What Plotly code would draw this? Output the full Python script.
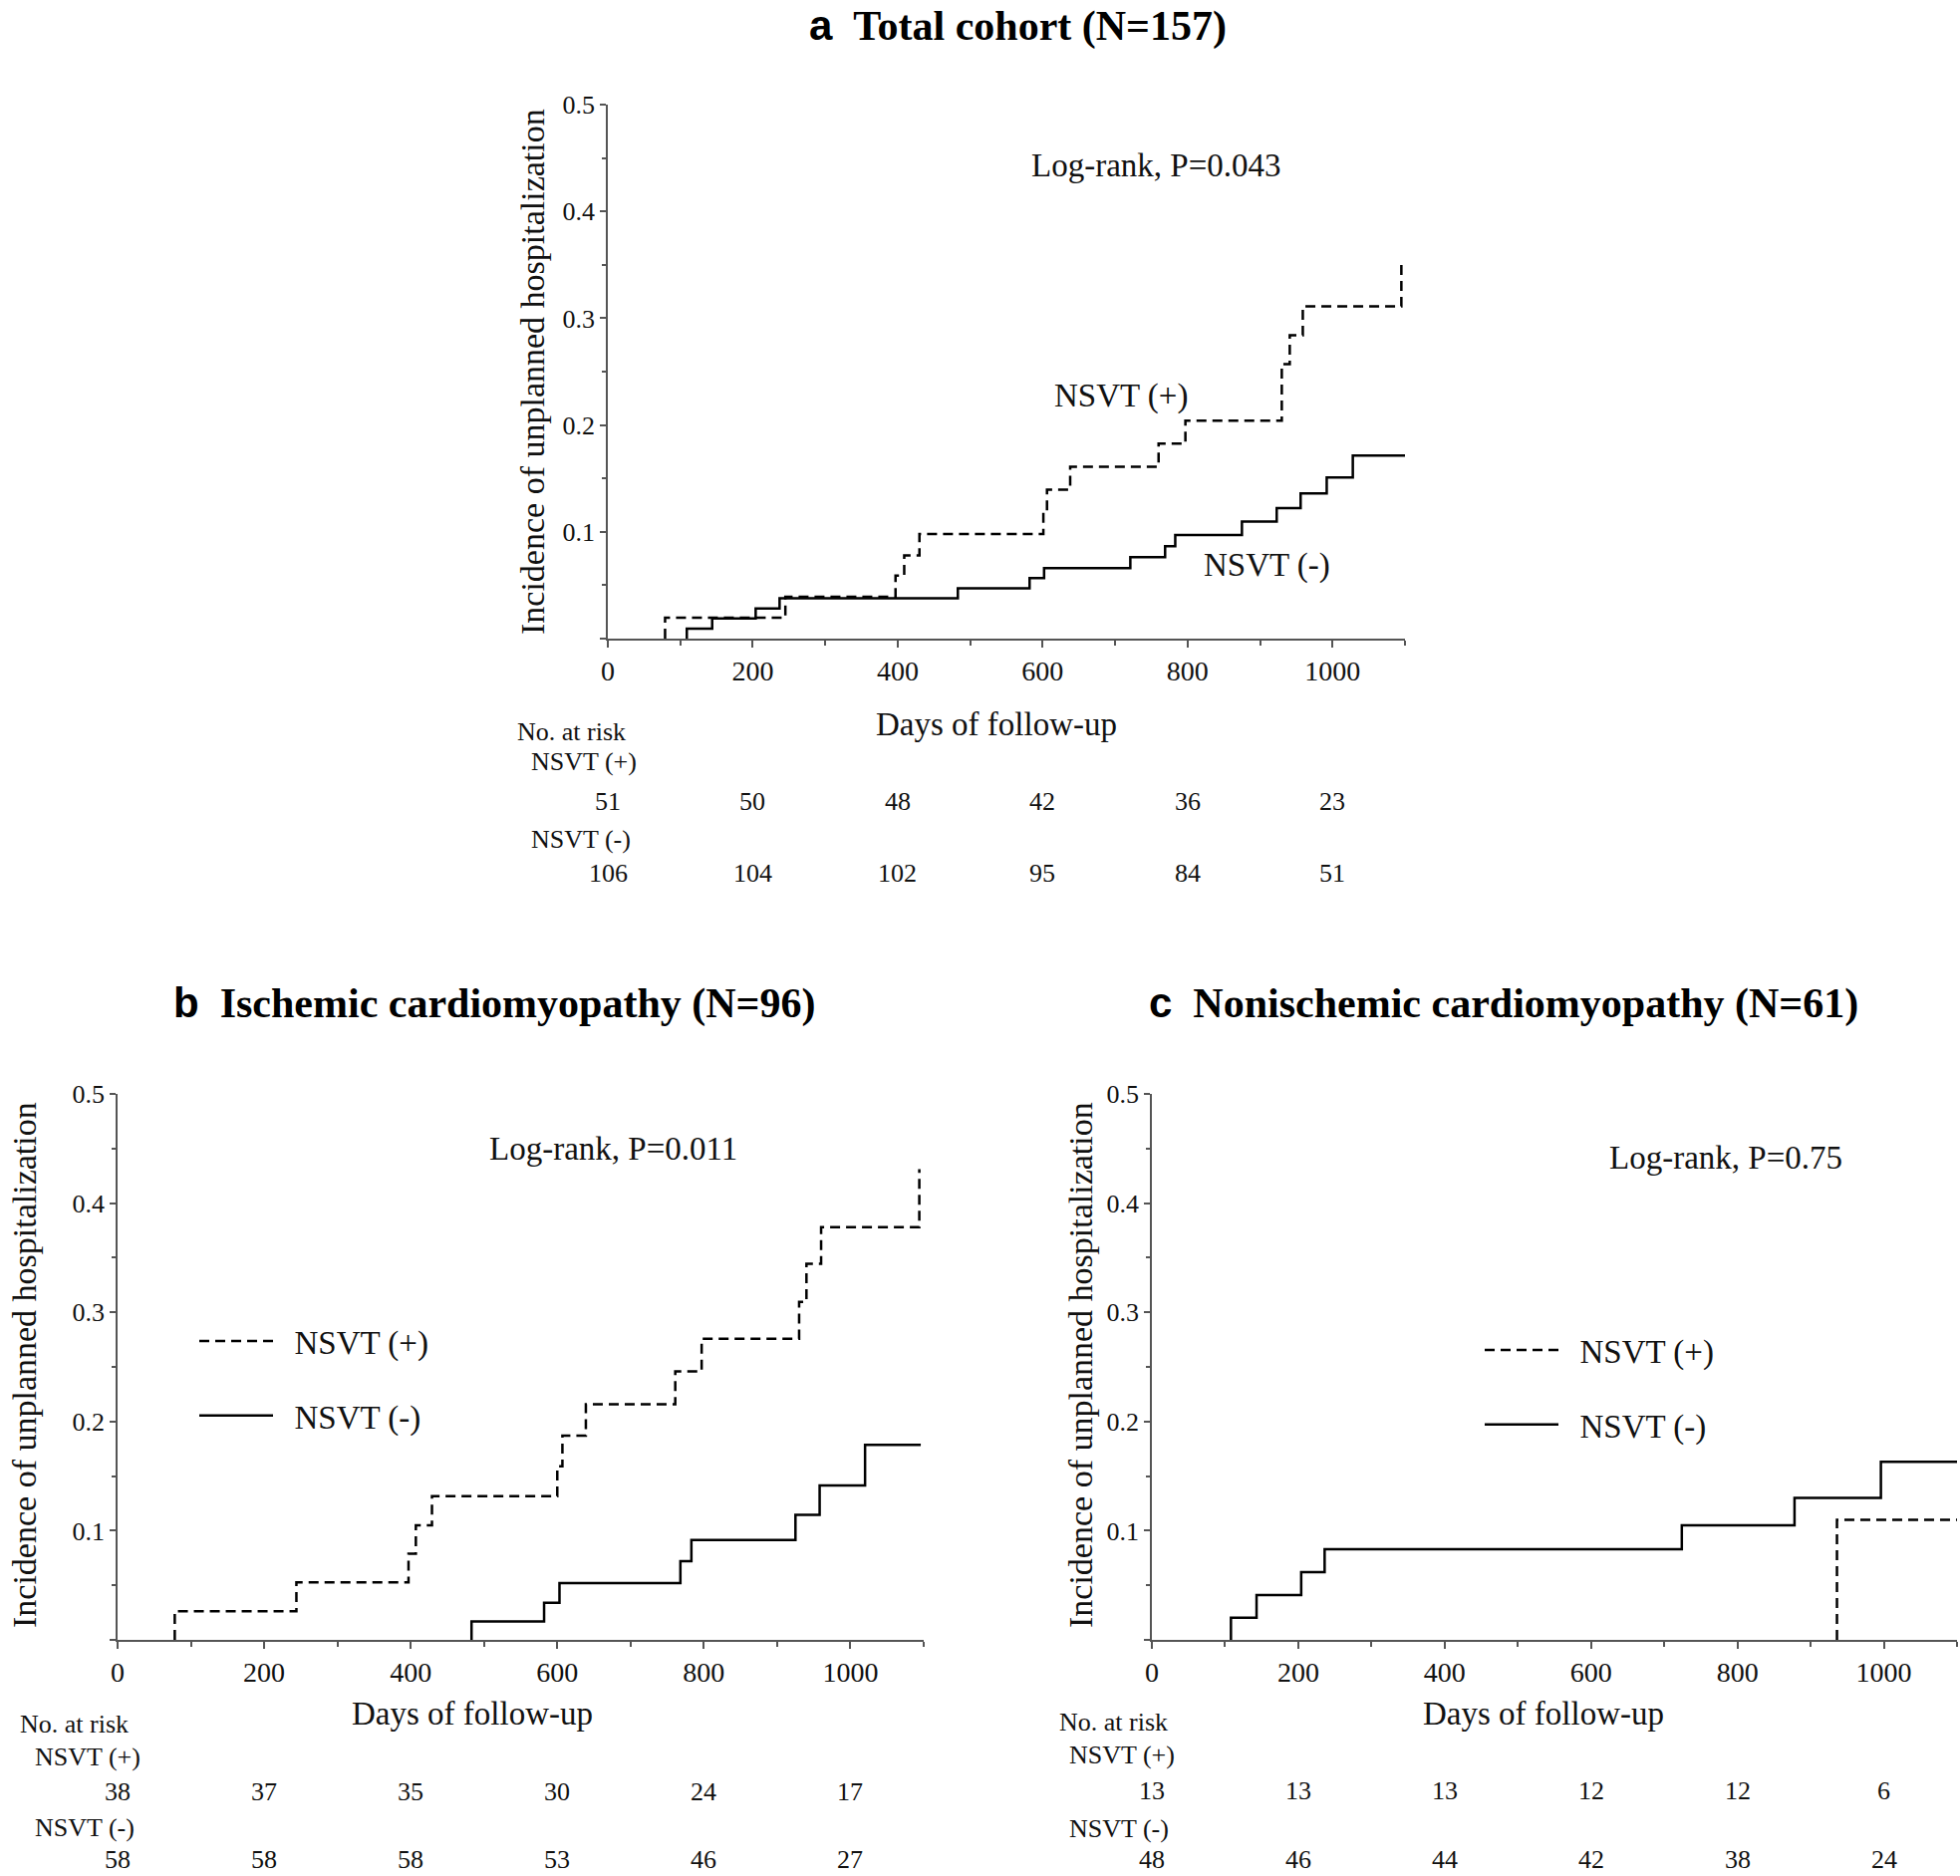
import plotly.graph_objects as go

# ── values ──────────────────────────────────────────────────────────────────
DAY_TICKS = [0, 200, 400, 600, 800, 1000]
Y_TICKS = [0, 0.1, 0.2, 0.3, 0.4, 0.5]
Y_TICK_TEXT = ["", "0.1", "0.2", "0.3", "0.4", "0.5"]

# a: total cohort
a_plus_days = [79, 245, 397, 409, 430, 601, 606, 638, 760, 797, 930, 941, 959, 1095]
a_plus_inc = [0.0196, 0.0392, 0.059, 0.078, 0.098, 0.118, 0.1395, 0.161, 0.1825,
              0.204, 0.257, 0.284, 0.311, 0.3546]
a_minus_days = [109, 144, 204, 237, 483, 582, 602, 721, 769, 783, 875, 923, 956, 992, 1028]
a_minus_inc = [0.0094, 0.0189, 0.0283, 0.0377, 0.047, 0.0566, 0.066, 0.0763, 0.0866,
               0.097, 0.1096, 0.1223, 0.136, 0.151, 0.1715]
a_risk_plus = [51, 50, 48, 42, 36, 23]
a_risk_minus = [106, 104, 102, 95, 84, 51]

# b: ischemic cardiomyopathy
b_plus_days = [78, 244, 397, 407, 429, 600, 607, 639, 761, 797, 930, 940, 960, 1094]
b_plus_inc = [0.0263, 0.0526, 0.0789, 0.105, 0.1316, 0.159, 0.187, 0.2157, 0.246,
              0.2757, 0.3096, 0.3445, 0.378, 0.431]
b_minus_days = [483, 582, 603, 768, 783, 925, 958, 1020]
b_minus_inc = [0.0168, 0.034, 0.052, 0.072, 0.0914, 0.1145, 0.1414, 0.1787]
b_risk_plus = [38, 37, 35, 30, 24, 17]
b_risk_minus = [58, 58, 58, 53, 46, 27]

# c: nonischemic cardiomyopathy
c_plus_days = [936]
c_plus_inc = [0.110]
c_minus_days = [108, 143, 204, 236, 724, 878, 996]
c_minus_inc = [0.0202, 0.041, 0.062, 0.083, 0.105, 0.130, 0.163]
c_risk_plus = [13, 13, 13, 12, 12, 6]
c_risk_minus = [48, 46, 44, 42, 38, 24]

# ── page geometry (page pixels of the 1967 x 1883 canvas) ───────────────────
FIG_W, FIG_H = 1967, 1883
SERIF = "Liberation Serif, Times New Roman, serif"
SANS = "Liberation Sans, Arial, sans-serif"
AXIS = "#555555"
INK = "#111111"
KEY_GAP = "\u00a0\u00a0"   # space between legend key line and its label


def px(x):
    return min(max(x / FIG_W, 0), 1)


def py(y):
    return min(max(1 - y / FIG_H, 0), 1)


def step_xy(days, inc, end=None):
    # vertical rise at each event day, flat in between
    xs = [days[0]] + list(days)
    ys = [0.0] + list(inc)
    if end is not None:
        xs.append(end)
        ys.append(inc[-1])
    return xs, ys


PANELS = [
    dict(sfx="", box=(610, 105, 1410, 641), letter="a", title="Total cohort (N=157)",
         title_x=1021, ytitle_xy=(535, 373), xtitle_xy=(1000, 727),
         no_risk_x=517, grp_x=531, rows=(734, 764, 804, 842, 876),
         p_text="Log-rank, P=0.043", p_xy=(1160, 166),
         plus=step_xy(a_plus_days, a_plus_inc), minus=step_xy(a_minus_days, a_minus_inc, 1100),
         risk=(a_risk_plus, a_risk_minus)),
    dict(sfx="2", box=(118, 1098, 927, 1646), letter="b", title="Ischemic cardiomyopathy (N=96)",
         title_x=496, ytitle_xy=(24, 1370), xtitle_xy=(474, 1720),
         no_risk_x=18, grp_x=33, rows=(1730, 1763, 1798, 1834, None),
         p_text="Log-rank, P=0.011", p_xy=(615, 1153),
         plus=step_xy(b_plus_days, b_plus_inc), minus=step_xy(b_minus_days, b_minus_inc, 1096),
         risk=(b_risk_plus, b_risk_minus)),
    dict(sfx="3", box=(1156, 1098, 1964, 1646), letter="c", title="Nonischemic cardiomyopathy (N=61)",
         title_x=1509, ytitle_xy=(1084, 1370), xtitle_xy=(1549, 1720),
         no_risk_x=1061, grp_x=1071, rows=(1728, 1761, 1797, 1835, None),
         p_text="Log-rank, P=0.75", p_xy=(1732, 1162),
         plus=step_xy(c_plus_days, c_plus_inc, 1100), minus=step_xy(c_minus_days, c_minus_inc, 1100),
         risk=(c_risk_plus, c_risk_minus)),
]

fig = go.Figure()
layout = dict(
    width=FIG_W, height=FIG_H,
    margin=dict(l=0, r=0, t=0, b=0),
    paper_bgcolor="white", plot_bgcolor="white",
    font=dict(family=SERIF, color=INK),
    showlegend=True,
)
annotations = []

for p in PANELS:
    sfx = p["sfx"]
    xa, ya = "x" + sfx, "y" + sfx
    x0, y0, x1, y1 = p["box"]

    for xs_ys, dash, name in ((p["plus"], "10px,6px", "NSVT (+)"), (p["minus"], "solid", "NSVT (-)")):
        xs, ys = xs_ys
        tr = go.Scatter(
            x=xs, y=ys, mode="lines", line_shape="hv",
            line=dict(color="black", width=2.5, dash=dash),
            name=KEY_GAP + name, xaxis=xa, yaxis=ya, hoverinfo="skip",
            showlegend=bool(sfx), legendgroup=name + sfx,
        )
        if sfx:
            tr.legend = "legend" + sfx
        fig.add_trace(tr)

    layout["xaxis" + sfx] = dict(
        domain=[px(x0), px(x1)], anchor=ya, range=[0, 1100], automargin=False,
        showline=True, linecolor=AXIS, linewidth=1.5, showgrid=False, zeroline=False,
        tickmode="array", tickvals=DAY_TICKS, ticks="outside", ticklen=7,
        tickwidth=1.5, tickcolor=AXIS,
        tickfont=dict(family=SERIF, size=28, color=INK),
        minor=dict(tick0=0, dtick=100, ticks="outside", ticklen=5, tickwidth=1.5, tickcolor=AXIS),
    )
    layout["yaxis" + sfx] = dict(
        domain=[py(y1), py(y0)], anchor=xa, range=[0, 0.5], automargin=False,
        showline=True, linecolor=AXIS, linewidth=1.5, showgrid=False, zeroline=False,
        tickmode="array", tickvals=Y_TICKS, ticktext=Y_TICK_TEXT, ticks="outside",
        ticklen=6, tickwidth=1.5, tickcolor=AXIS,
        tickfont=dict(family=SERIF, size=26, color=INK),
        minor=dict(tick0=0, dtick=0.05, ticks="outside", ticklen=4, tickwidth=1.5, tickcolor=AXIS),
    )

    # panel title (panel a sits at the very top of the page)
    title_y = dict(y=1, yanchor="top") if not sfx else dict(y=py(1007), yanchor="middle")
    annotations.append(dict(
        x=px(p["title_x"]), xref="paper", yref="paper", showarrow=False,
        text=f"<b><span style='font-family:{SANS}'>{p['letter']}</span>\u00a0\u00a0{p['title']}</b>",
        font=dict(family=SERIF, size=42, color="black"), xanchor="center", **title_y,
    ))
    yx, yy = p["ytitle_xy"]
    annotations.append(dict(
        x=px(yx), y=py(yy), xref="paper", yref="paper", showarrow=False, textangle=-90,
        text="Incidence of unplanned hospitalization",
        font=dict(family=SERIF, size=34, color=INK), xanchor="center", yanchor="middle",
    ))
    xx, xy = p["xtitle_xy"]
    annotations.append(dict(
        x=px(xx), y=py(xy), xref="paper", yref="paper", showarrow=False,
        text="Days of follow-up",
        font=dict(family=SERIF, size=33, color=INK), xanchor="center", yanchor="middle",
    ))
    lx, ly = p["p_xy"]
    annotations.append(dict(
        x=px(lx), y=py(ly), xref="paper", yref="paper", showarrow=False,
        text=p["p_text"], font=dict(family=SERIF, size=33, color=INK),
        xanchor="center", yanchor="middle",
    ))

    # number at risk table
    r_title, r_plus, r_row1, r_minus, r_row2 = p["rows"]
    for text, xpos, ypos in (("No. at risk", p["no_risk_x"], r_title),
                             ("NSVT (+)", p["grp_x"], r_plus),
                             ("NSVT (-)", p["grp_x"], r_minus)):
        annotations.append(dict(
            x=px(xpos), y=py(ypos), xref="paper", yref="paper", showarrow=False,
            text=text, font=dict(family=SERIF, size=26, color=INK),
            xanchor="left", yanchor="middle",
        ))
    for counts, ypos in ((p["risk"][0], r_row1), (p["risk"][1], r_row2)):
        # the last row of panels b and c rests on the bottom edge of the page
        row_y = dict(y=py(ypos), yanchor="middle") if ypos else dict(y=0, yanchor="bottom")
        for d, n in zip(DAY_TICKS, counts):
            annotations.append(dict(
                x=d, xref=xa, yref="paper", showarrow=False,
                text=str(n), font=dict(family=SERIF, size=26, color=INK),
                xanchor="center", **row_y,
            ))

# curve labels inside panel a
for text, (lx, ly) in (("NSVT (+)", (1125, 398)), ("NSVT (-)", (1271, 567))):
    annotations.append(dict(
        x=px(lx), y=py(ly), xref="paper", yref="paper", showarrow=False,
        text=text, font=dict(family=SERIF, size=33, color=INK),
        xanchor="center", yanchor="middle",
    ))

legend_style = dict(
    xanchor="left", yanchor="top", bgcolor="rgba(0,0,0,0)", borderwidth=0,
    font=dict(family=SERIF, size=33, color=INK), tracegroupgap=29, itemwidth=74,
    itemclick=False, itemdoubleclick=False,
)
layout["legend2"] = dict(x=px(195), y=py(1318), **legend_style)
layout["legend3"] = dict(x=px(1485), y=py(1327), **legend_style)
layout["annotations"] = annotations

fig.update_layout(**layout)
# drop the browser's default 8px body margin so the figure fills the window
fig.write_html("out.html", config={"displayModeBar": False},
               post_script="document.body.style.margin='0';")
